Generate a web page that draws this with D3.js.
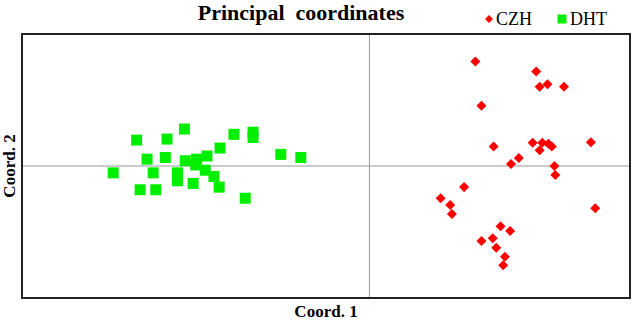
<!DOCTYPE html>
<html>
<head>
<meta charset="utf-8">
<script src="https://cdn.jsdelivr.net/npm/d3@7"></script>
<style>
  body { margin: 0; background: #fff; }
  text { font-family: "Liberation Serif", "Times New Roman", serif; }
</style>
</head>
<body>
<svg id="chart"></svg>
<script>
// principal coordinates
const czhX = [0.122, 0.192, 0.196, 0.205, 0.224, 0.129, 0.143, 0.188, 0.199, 0.206, 0.196, 0.210, 0.255,
              0.172, 0.163, 0.213, 0.214, 0.109, 0.082, 0.093, 0.095, 0.260, 0.151, 0.162, 0.129, 0.142,
              0.146, 0.156, 0.154];
const czhY = [0.198, 0.179, 0.150, 0.155, 0.150, 0.114, 0.037, 0.044, 0.044, 0.042, 0.030, 0.037, 0.045,
              0.015, 0.004, 0.000, -0.017, -0.040, -0.061, -0.074, -0.091, -0.080, -0.114, -0.123, -0.142,
              -0.137, -0.155, -0.172, -0.188];
const dhtX = [-0.268, -0.233, -0.213, -0.156, -0.134, -0.134, -0.256, -0.235, -0.212, -0.199, -0.187,
              -0.172, -0.102, -0.079, -0.295, -0.249, -0.221, -0.221, -0.200, -0.189, -0.179, -0.203,
              -0.173, -0.264, -0.246, -0.143];
const dhtY = [0.049, 0.051, 0.070, 0.060, 0.064, 0.054, 0.013, 0.016, 0.010, 0.013, 0.019, 0.034, 0.022,
              0.016, -0.013, -0.013, -0.013, -0.028, 0.002, -0.008, -0.020, -0.033, -0.040, -0.045,
              -0.045, -0.061];
const groups = ["CZH", "DHT"];
const colors = ["#ff0000", "#00ee00"];

const width = 633, height = 322;
const margin = { top: 34, right: 3, bottom: 24, left: 22 };

const svg = d3.select("#chart").attr("width", width).attr("height", height);

const x = d3.scaleLinear().domain([-0.4, 0.3]).range([margin.left, width - margin.right]);
const y = d3.scaleLinear().domain([-0.25, 0.25]).range([height - margin.bottom, margin.top]);

// zero lines
svg.append("line")
    .attr("x1", x(0)).attr("x2", x(0))
    .attr("y1", margin.top).attr("y2", height - margin.bottom)
    .attr("stroke", "#999").attr("stroke-width", 1);
svg.append("line")
    .attr("x1", margin.left).attr("x2", width - margin.right)
    .attr("y1", y(0)).attr("y2", y(0))
    .attr("stroke", "#999").attr("stroke-width", 1);

const czh = czhX.map((v, i) => ({ x: v, y: czhY[i] }));
const dht = dhtX.map((v, i) => ({ x: v, y: dhtY[i] }));

const diamond = d3.symbol().type(d3.symbolDiamond2).size(64);
const square = d3.symbol().type(d3.symbolSquare).size(121);

svg.append("g").selectAll("path")
    .data(dht).enter().append("path")
    .attr("d", square)
    .attr("transform", d => `translate(${x(d.x)},${y(d.y)})`)
    .attr("fill", colors[1]);

svg.append("g").selectAll("path")
    .data(czh).enter().append("path")
    .attr("d", diamond)
    .attr("transform", d => `translate(${x(d.x)},${y(d.y)})`)
    .attr("fill", colors[0]);

// frame
svg.append("rect")
    .attr("x", margin.left).attr("y", margin.top)
    .attr("width", width - margin.left - margin.right)
    .attr("height", height - margin.top - margin.bottom)
    .attr("fill", "none").attr("stroke", "#222").attr("stroke-width", 2);

// title and axis labels
svg.append("text")
    .attr("x", 301).attr("y", 20)
    .attr("text-anchor", "middle")
    .attr("font-size", 22).attr("font-weight", "bold")
    .attr("xml:space", "preserve")
    .text("Principal  coordinates");

svg.append("text")
    .attr("x", 326).attr("y", 317)
    .attr("text-anchor", "middle")
    .attr("font-size", 17).attr("font-weight", "bold")
    .text("Coord. 1");

svg.append("text")
    .attr("transform", `translate(15,${y(0)}) rotate(-90)`)
    .attr("text-anchor", "middle")
    .attr("font-size", 17).attr("font-weight", "bold")
    .text("Coord. 2");

// legend
const legend = svg.append("g");
const legendX = [489, 562];
groups.forEach((g, i) => {
    legend.append("path")
        .attr("d", i === 0 ? d3.symbol().type(d3.symbolDiamond2).size(40) : d3.symbol().type(d3.symbolSquare).size(81))
        .attr("transform", `translate(${legendX[i]},19)`)
        .attr("fill", colors[i]);
    legend.append("text")
        .attr("x", legendX[i] + (i === 0 ? 7 : 8)).attr("y", 25)
        .attr("font-size", 18)
        .text(g);
});
</script>
</body>
</html>
